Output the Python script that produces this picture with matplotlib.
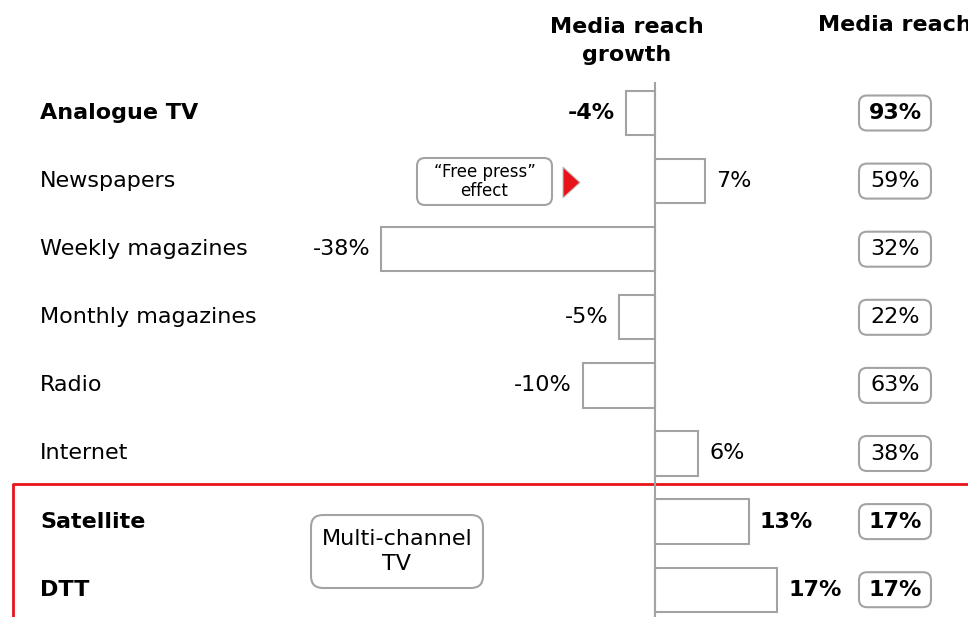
import matplotlib
matplotlib.use('Agg')
matplotlib.rcParams['font.family'] = 'DejaVu Sans'
import matplotlib.pyplot as plt
from matplotlib.patches import FancyBboxPatch, Polygon
import matplotlib.transforms as mtransforms

# ── data ────────────────────────────────────────────────────────────────
MEDIA = ['Analogue TV', 'Newspapers', 'Weekly magazines', 'Monthly magazines',
         'Radio', 'Internet', 'Satellite', 'DTT']
GROWTH = [-4, 7, -38, -5, -10, 6, 13, 17]      # media reach growth, %
REACH = [93, 59, 32, 22, 63, 38, 17, 17]       # media reach, %
BOLD = [True, False, False, False, False, False, True, True]

W, H = 968, 617
FS = 16
GREY = '#a3a3a3'
RED = '#e8141b'

fig = plt.figure(figsize=(W / 100, H / 100), dpi=100)
ax = fig.add_axes([0, 0, 1, 1])
ax.axis('off')

# scales: zero at x=655px, ~7.2px per %; rows centred from y=113px, 68.1px apart
PX_PER_PCT, ROW_PX, ROW0 = 7.2, 68.1, 113
ax.set_xlim(-655 / PX_PER_PCT, (W - 655) / PX_PER_PCT)
ax.set_ylim((H - ROW0) / ROW_PX, -ROW0 / ROW_PX)

rows = list(range(len(MEDIA)))
ax.barh(rows, GROWTH, height=0.65, color='white', edgecolor=GREY, linewidth=1.5, zorder=2)

# zero line
ax.axvline(0, ymin=0, ymax=1 - 83 / H, color=GREY, linewidth=1.5, zorder=3)

blend = mtransforms.blended_transform_factory(ax.transAxes, ax.transData)
to_axes = ax.transData + ax.transAxes.inverted()


def rbox(cx, cy, wpx, hpx, rpx=8, ec=GREY):
    """rounded box, centre in axes fraction, size in pixels"""
    w, h = wpx / W, hpx / H
    p = FancyBboxPatch((cx - w / 2, cy - h / 2), w, h,
                       boxstyle=f'round,pad=0,rounding_size={rpx / W}',
                       mutation_aspect=W / H, transform=ax.transAxes,
                       facecolor='white', edgecolor=ec, linewidth=1.5, zorder=4)
    ax.add_patch(p)


for i, (name, g, r, b) in enumerate(zip(MEDIA, GROWTH, REACH, BOLD)):
    wt = 'bold' if b else 'normal'
    ax.text(40 / W, i, name, transform=blend, fontsize=FS, fontweight=wt,
            ha='left', va='center')
    off = 11 if g > 0 else -11
    ax.annotate(f'{g}%', (g, i), xytext=(off, 0), textcoords='offset pixels',
                ha='left' if g > 0 else 'right', va='center',
                fontsize=FS, fontweight=wt)
    cy = to_axes.transform((0, i))[1]
    rbox(895 / W, cy, 72, 35)
    ax.text(895 / W, cy, f'{r}%', transform=ax.transAxes, fontsize=FS,
            fontweight=wt, ha='center', va='center', zorder=5)

# headers
ax.text(627 / W, 1 - 41 / H, 'Media reach\ngrowth', transform=ax.transAxes,
        fontsize=FS, fontweight='bold', ha='center', va='center', linespacing=1.45)
ax.text(895 / W, 1 - 25 / H, 'Media reach', transform=ax.transAxes,
        fontsize=FS, fontweight='bold', ha='center', va='center')

# "Free press" callout
rbox(484.5 / W, 1 - 181.5 / H, 135, 47, rpx=8)
ax.text(484.5 / W, 1 - 181.5 / H, '\u201cFree press\u201d\neffect', transform=ax.transAxes,
        fontsize=12, ha='center', va='center', linespacing=1.05, zorder=5)
ax.add_patch(Polygon([(563 / W, 1 - 167 / H), (563 / W, 1 - 198 / H), (580 / W, 1 - 182.5 / H)],
                     closed=True, transform=ax.transAxes, facecolor=RED,
                     edgecolor='#c0c0c0', linewidth=0.8, zorder=5))

# multi-channel TV group
ax.plot([13 / W, 13 / W, 1], [0, 1 - 484 / H, 1 - 484 / H], transform=ax.transAxes,
        color=RED, linewidth=2, clip_on=False, zorder=1)
rbox(397 / W, 1 - 551.5 / H, 172, 73, rpx=12)
ax.text(397 / W, 1 - 551.5 / H, 'Multi-channel\nTV', transform=ax.transAxes,
        fontsize=FS, ha='center', va='center', linespacing=1.3, zorder=5)

fig.savefig('out.png', dpi=100)
